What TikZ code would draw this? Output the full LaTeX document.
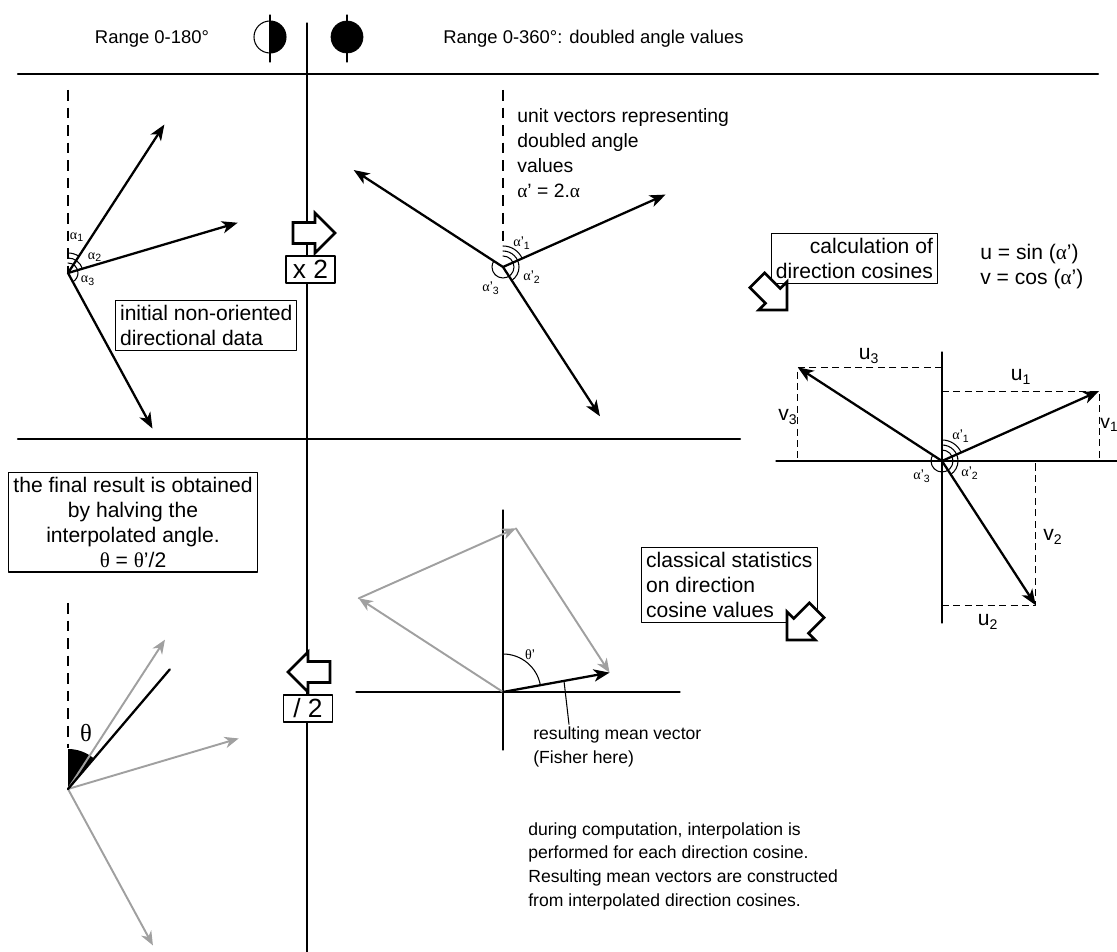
\documentclass[tikz,border=0pt]{standalone}
\usepackage{fontspec}
\setmainfont{Liberation Sans}
\newfontfamily\grk{Liberation Serif}
\usetikzlibrary{arrows.meta}
\definecolor{vecgray}{RGB}{160,160,160}

\begin{document}
\begin{tikzpicture}[line cap=round,line join=round,>={Stealth[length=9pt,width=7pt,inset=2.5pt]},x=0.02cm,y=0.02cm,
    txt/.style={font=\fontsize{12}{14.2}\selectfont,inner sep=0pt,align=left},
    boxed/.style={txt,draw,line width=0.6pt,fill=white,inner sep=2.6pt},
    lbl/.style={font=\fontsize{8}{9}\selectfont,inner sep=0pt},
    uv/.style={font=\fontsize{12}{14}\selectfont,inner sep=0pt},
    factor/.style={draw,fill=white,line width=0.6pt,font=\fontsize{15}{15}\selectfont,inner sep=1.5pt,minimum width=0.98cm,minimum height=0.54cm},
    vec/.style={->,line width=1.3pt},
    gvec/.style={-{Stealth[length=8pt,width=6.5pt,inset=2.5pt]},line width=1.1pt,color=vecgray},
    hair/.style={line width=0.6pt},
    rule/.style={line width=1.3pt},
    guide/.style={line width=0.6pt,line cap=butt,dash pattern=on 6pt off 4pt},
    proj/.style={line width=0.6pt,line cap=butt,dash pattern=on 4pt off 2.5pt},
    hollow/.pic={\draw[line width=1.5pt,line join=miter,fill=white] (0,0) -- (-20,20) -- (-20,10.5) -- (-42,10.5) -- (-42,-10.5) -- (-20,-10.5) -- (-20,-20) -- cycle;}]
  \useasboundingbox (0,0) rectangle (1117,-952);

  \node[txt,font=\fontsize{10.5}{12}\selectfont,anchor=base] (r180) at (152,-44) {Range 0-180°};
  \draw[hair,fill=white] (270,-37) circle[radius=16];
  \fill (270,-21) arc[start angle=90,end angle=-90,radius=16] -- cycle;
  \draw[hair] (270,-15) -- (270,-62);
  \fill[draw] (347,-37) circle[radius=16];
  \draw[hair] (347,-15) -- (347,-62);
  \node[txt,font=\fontsize{10.5}{12}\selectfont,anchor=base west] (r360) at (443,-44) {Range 0-360°: doubled angle values};
  \draw[rule] (18,-74) -- (1098,-74);
  \draw[rule] (18,-439) -- (740,-439);
  \draw[hair] (307,-23) -- (307,-952);

  \coordinate (L) at (68,-273);
  \draw[guide] (68,-90) -- (L);
  \foreach \a/\n in {57/1,16.5/2,-61.5/3}
    \draw[vec] (L) -- ++(\a:177) coordinate (l\n);
  \draw[hair] (L) ++(90:20) arc[start angle=90,end angle=57,radius=20];
  \draw[hair] (L) ++(90:15) arc[start angle=90,end angle=16.5,radius=15];
  \draw[hair] (L) ++(90:10) arc[start angle=90,end angle=-61.5,radius=10];
  \node[lbl] (la1) at (77,-237) {{\grk α}\textsubscript{1}};
  \node[lbl] (la2) at (95,-257) {{\grk α}\textsubscript{2}};
  \node[lbl] (la3) at (88,-281) {{\grk α}\textsubscript{3}};
  \node[boxed,anchor=north west] (init) at (115,-300) {initial non-oriented\\directional data};

  \pic at (335,-233) {hollow};
  \node[factor] (times) at (310.5,-269.5) {x 2};

  \coordinate (M) at (503,-267);
  \draw[guide] (503,-90) -- (503,-245);
  \foreach \a/\n in {24/1,-57/2,147/3}
    \draw[vec] (M) -- ++(\a:178) coordinate (m\n);
  \draw[hair] (M) ++(90:21) arc[start angle=90,end angle=24,radius=21];
  \draw[hair] (M) ++(90:16) arc[start angle=90,end angle=-57,radius=16];
  \draw[hair] (M) ++(90:11) arc[start angle=90,end angle=-213,radius=11];
  \node[lbl] (ma1) at (522,-243) {{\grk α}'\textsubscript{1}};
  \node[lbl] (ma2) at (532,-277) {{\grk α}'\textsubscript{2}};
  \node[lbl] (ma3) at (491,-288) {{\grk α}'\textsubscript{3}};
  \node[txt,font=\fontsize{11}{14.2}\selectfont,anchor=north west] (unit) at (517,-108) {unit vectors representing\\doubled angle\\values\\{\grk α}' = 2.{\grk α}};

  \node[boxed,align=right,anchor=north east] (calc) at (938,-233) {calculation of\\direction cosines};
  \pic[rotate=-45] at (787,-310) {hollow};
  \node[txt,anchor=north west] (uvdef) at (980,-244) {u = sin ({\grk α}')\\v = cos ({\grk α}')};

  \coordinate (R) at (942,-461);
  \draw[hair] (776,-461) -- (1117,-461);
  \draw[hair] (942,-352) -- (942,-623);
  \foreach \a/\n in {24/1,-57/2,147/3}
    \draw[vec] (R) -- ++(\a:172) coordinate (r\n);
  \foreach \n in {1,2,3}
    \draw[proj] (R |- r\n) -- (r\n) -- (r\n |- R);
  \draw[hair] (R) ++(90:21) arc[start angle=90,end angle=24,radius=21];
  \draw[hair] (R) ++(90:16) arc[start angle=90,end angle=-57,radius=16];
  \draw[hair] (R) ++(90:11) arc[start angle=90,end angle=-213,radius=11];
  \node[lbl] (ra1) at (961,-436) {{\grk α}'\textsubscript{1}};
  \node[lbl] (ra2) at (970,-473) {{\grk α}'\textsubscript{2}};
  \node[lbl] (ra3) at (922,-476) {{\grk α}'\textsubscript{3}};
  \node[uv] (u1) at (1021,-377) {u\textsubscript{1}};
  \node[uv,font=\fontsize{11}{13}\selectfont,anchor=west] (v1) at (1100,-425) {v\textsubscript{1}};
  \node[uv] (u2) at (988,-622) {u\textsubscript{2}};
  \node[uv] (v2) at (1053,-537) {v\textsubscript{2}};
  \node[uv] (u3) at (869,-356) {u\textsubscript{3}};
  \node[uv] (v3) at (788,-417) {v\textsubscript{3}};

  \node[boxed,anchor=north west] (stats) at (641,-547) {classical statistics\\on direction\\cosine values};
  \pic[rotate=-135] at (787,-640) {hollow};

  \node[boxed,align=center,anchor=north] (final) at (133,-472) {the final result is obtained\\by halving the\\interpolated angle.\\{\grk θ} = {\grk θ}'/2};
  \coordinate (B) at (68,-789);
  \draw[guide] (68,-603) -- (68,-748);
  \fill (B) -- ++(90:40) arc[start angle=90,end angle=49.6,radius=40] -- cycle;
  \foreach \a/\n in {57/1,16.5/2,-61.5/3}
    \draw[gvec] (B) -- ++(\a:178) coordinate (b\n);
  \draw[line width=1.3pt] (B) -- ++(49.6:157) coordinate (bm);
  \node[font=\grk\fontsize{14}{14}\selectfont,inner sep=0pt] (theta) at (86,-733) {θ};

  \pic[rotate=180] at (288,-672) {hollow};
  \node[factor] (halve) at (308,-708.5) {/ 2};

  \coordinate (C) at (503,-692);
  \draw[hair] (356,-692) -- (680,-692);
  \draw[hair] (503,-510) -- (503,-750);
  \draw[gvec] (C) -- ++(147:172) coordinate (c3);
  \draw[gvec] (c3) -- ++(24:172) coordinate (c1);
  \draw[gvec] (c1) -- ++(-57:172) coordinate (c2);
  \draw[hair] (C) ++(90:38) arc[start angle=90,end angle=10.3,radius=38];
  \draw[vec] (C) -- (c2);
  \node[lbl] (thp) at (530,-655) {{\grk θ}'};
  \path (C) ++(10.3:62) coordinate (foot);
  \node[txt,font=\fontsize{10}{14}\selectfont,anchor=north west] (mean) at (533,-726) {resulting mean vector\\(Fisher here)};
  \draw[hair] (foot) -- ([xshift=0.72cm,yshift=1pt]mean.north west);

  \node[txt,font=\fontsize{10}{13.6}\selectfont,anchor=north west] (note) at (528,-822) {during computation, interpolation is\\performed for each direction cosine.\\Resulting mean vectors are constructed\\from interpolated direction cosines.};
\end{tikzpicture}
\end{document}
